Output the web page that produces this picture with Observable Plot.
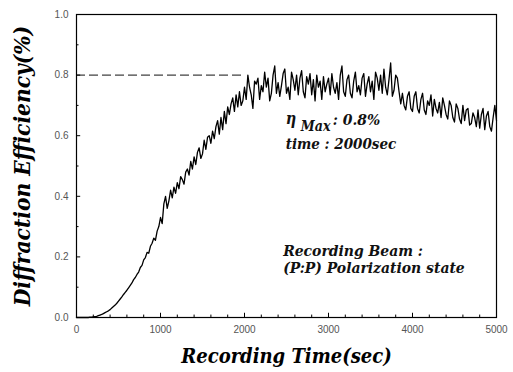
<!DOCTYPE html>
<html>
<head>
<meta charset="utf-8">
<script src="https://cdn.jsdelivr.net/npm/d3@7"></script>
<script src="https://cdn.jsdelivr.net/npm/@observablehq/plot@0.6"></script>
<style>
  html, body { margin: 0; padding: 0; background: #fff; }
  #chart { width: 513px; height: 372px; }
</style>
</head>
<body>
<div id="chart"></div>
<script>
// Sampling step of the recorded trace (seconds)
const timeStep = 20;
// Diffraction efficiency (%), one value every 20 s from 0 to 5000 s
const efficiency = [
  0.000,0.000,0.000,0.000,0.000,0.000,0.000,0.000,0.001,0.001,0.002,
  0.003,0.004,0.006,0.008,0.010,0.013,0.016,0.019,0.022,0.026,
  0.031,0.036,0.041,0.047,0.054,0.061,0.068,0.076,0.083,0.090,
  0.098,0.106,0.114,0.125,0.132,0.142,0.150,0.165,0.172,0.190,
  0.198,0.215,0.212,0.235,0.245,0.262,0.255,0.285,0.300,0.330,
  0.310,0.375,0.400,0.360,0.385,0.420,0.395,0.430,0.410,0.445,
  0.425,0.465,0.455,0.440,0.480,0.490,0.470,0.515,0.490,0.530,
  0.505,0.545,0.560,0.525,0.540,0.585,0.555,0.595,0.600,0.575,
  0.615,0.590,0.630,0.650,0.605,0.660,0.620,0.680,0.640,0.695,
  0.670,0.705,0.725,0.680,0.735,0.695,0.745,0.700,0.715,0.760,
  0.720,0.800,0.760,0.735,0.690,0.780,0.770,0.790,0.720,0.765,
  0.745,0.810,0.760,0.790,0.715,0.740,0.800,0.830,0.740,0.775,
  0.730,0.765,0.805,0.820,0.740,0.760,0.720,0.810,0.785,0.750,
  0.800,0.735,0.790,0.815,0.745,0.725,0.795,0.770,0.805,0.735,
  0.785,0.715,0.800,0.760,0.780,0.720,0.795,0.745,0.770,0.790,
  0.735,0.805,0.760,0.740,0.775,0.720,0.800,0.830,0.745,0.730,
  0.785,0.800,0.740,0.725,0.780,0.810,0.745,0.765,0.735,0.790,
  0.805,0.730,0.770,0.795,0.745,0.780,0.720,0.810,0.790,0.750,
  0.800,0.740,0.820,0.760,0.735,0.785,0.840,0.730,0.750,0.800,
  0.790,0.745,0.705,0.740,0.700,0.685,0.730,0.745,0.690,0.680,
  0.730,0.745,0.690,0.675,0.720,0.740,0.685,0.670,0.715,0.700,
  0.735,0.665,0.720,0.690,0.675,0.710,0.660,0.725,0.700,0.670,
  0.655,0.715,0.700,0.660,0.645,0.705,0.690,0.655,0.640,0.700,
  0.650,0.685,0.690,0.635,0.640,0.675,0.660,0.630,0.685,0.625,
  0.670,0.690,0.620,0.665,0.680,0.630,0.615,0.660,0.700,0.650
];
const xTicks = [0, 1000, 2000, 3000, 4000, 5000];
const xMinorTicks = d3.range(0, 5001, 200);
const yTicks = [0, 0.2, 0.4, 0.6, 0.8, 1.0];
const yMinorTicks = [0.1, 0.3, 0.5, 0.7, 0.9];
const maxLevel = 0.8;
const maxTime = 2000;
const xTitle = "Recording Time(sec)";
const yTitle = "Diffraction Efficiency(%)";
const notes = [
  {t: 2490, v: 0.657, text: "η", size: 16},
  {t: 2670, v: 0.630, text: "Max", size: 14},
  {t: 3050, v: 0.652, text: ": 0.8%", size: 15.5},
  {t: 2490, v: 0.572, text: "time : 2000sec", size: 15},
  {t: 2460, v: 0.221, text: "Recording Beam :", size: 15.5},
  {t: 2460, v: 0.162, text: "(P:P) Polarization state", size: 15.5}
];

const data = efficiency.map((v, i) => ({t: i * timeStep, v}));
const serif = "DejaVu Serif Condensed, DejaVu Serif";

const chart = Plot.plot({
  width: 513,
  height: 372,
  marginLeft: 76,
  marginRight: 17,
  marginTop: 14,
  marginBottom: 55,
  style: {fontSize: "10px", color: "#555", background: "#fff"},
  x: {domain: [0, 5000]},
  y: {domain: [0, 1.0]},
  marks: [
    Plot.ruleY([maxLevel], {x1: 0, x2: maxTime, stroke: "#111", strokeWidth: 1, strokeDasharray: "9,4"}),
    Plot.line(data, {x: "t", y: "v", stroke: "#000", strokeWidth: 1.3}),
    Plot.ruleX(xMinorTicks, {y1: 0, y2: 0.008, stroke: "#000"}),
    Plot.ruleX(xTicks, {y1: 0, y2: 0.014, stroke: "#000"}),
    Plot.ruleY(yMinorTicks, {x1: 0, x2: 30, stroke: "#000"}),
    Plot.ruleY(yTicks, {x1: 0, x2: 50, stroke: "#000"}),
    Plot.frame({stroke: "#000", strokeWidth: 1.2}),
    Plot.axisX(xTicks, {tickSize: 0, tickPadding: 8, label: null, tickFormat: "d", fill: "#555", fontFamily: "Liberation Sans"}),
    Plot.axisY(yTicks, {tickSize: 0, tickPadding: 8, label: null, tickFormat: ".1f", fill: "#555", fontFamily: "Liberation Sans"}),
    Plot.text(notes, {x: "t", y: "v", text: "text", fontSize: "size", textAnchor: "start",
      fontFamily: serif, fontStyle: "italic", fontWeight: "bold", fill: "#111"}),
    Plot.text([xTitle], {frameAnchor: "bottom", dy: 45, fontSize: 20, fontFamily: serif,
      fontStyle: "italic", fontWeight: "bold", fill: "#000"}),
    Plot.text([yTitle], {frameAnchor: "left", textAnchor: "middle", dx: -54, rotate: -90, fontSize: 22.5, fontFamily: serif,
      fontStyle: "italic", fontWeight: "bold", fill: "#000"})
  ]
});
// serif face for the italic titles and annotations
d3.select(chart).selectAll('[font-style="italic"]').style("font-family", serif);
document.getElementById("chart").appendChild(chart);
</script>
</body>
</html>
